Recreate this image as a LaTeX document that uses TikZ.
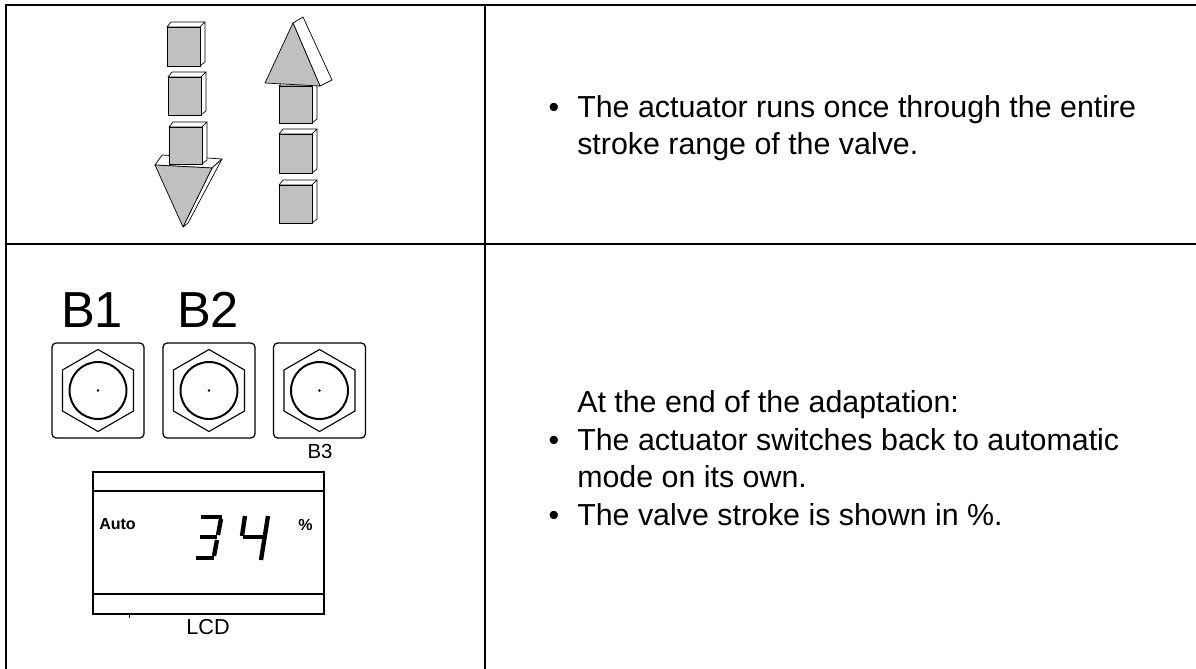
\documentclass[tikz,border=0pt]{standalone}
\usepackage{fontspec}
\setmainfont{Liberation Sans}
\usetikzlibrary{calc}
\definecolor{facegray}{RGB}{192,192,192}
\newcommand{\bodyfont}{\fontsize{21.6}{26}\selectfont}
\tikzset{
	frame/.style={line width=1.5pt},
	thinframe/.style={line width=0.8pt},
	facet/.style={line width=0.5pt, line join=round},
	txt/.style={inner sep=0pt, font=\bodyfont},
	button/.style={draw, line width=0.9pt, rounded corners=3pt, minimum width=2.3cm, minimum height=2.375cm},
	segment/.style={line width=3.1pt},
}
% block: grey front face with white top and side
\def\cube(#1,#2)(#3:#4){%
	\draw[facet,fill=white] (#1,#2) -- (#1+4,#2-5) -- (#1+#3+5,#2-5) -- (#1+#3,#2) -- cycle;
	\draw[facet,fill=white] (#1+#3,#2) -- (#1+#3+5,#2-5) -- (#1+#3+5,#2+#4-4) -- (#1+#3,#2+#4) -- cycle;
	\draw[facet,fill=facegray] (#1,#2) rectangle (#1+#3,#2+#4);}
% push button with hexagon and knob
\def\knob(#1){%
	\draw[line width=0.8pt] (#1) +(90:41) -- +(30:41) -- +(-30:41) -- +(-90:41) -- +(-150:41) -- +(150:41) -- cycle;
	\draw[line width=1.4pt] (#1) circle[radius=28.5];
	\fill (#1) circle[radius=1.3];}

\begin{document}
\begin{tikzpicture}[x=0.025cm, y=-0.025cm]
		\useasboundingbox (0,0) rectangle (1196,669);
		
		%%%%% TABLE %%%%%
		\draw[frame] (6,669) -- (6,5) -- (127,5);
		\draw[thinframe] (127,5) -- (365,5);
		\draw[frame] (365,5) -- (1196,5);
		\draw[frame] (6,244) -- (127,244);
		\draw[thinframe] (127,244) -- (365,244);
		\draw[frame] (365,244) -- (1196,244);
		\draw[frame] (485,5) -- (485,669);
		
		%%%%% STROKE ARROWS %%%%%
		\cube(167,27)(33:39)
		\cube(168,77)(33:38)
		\draw[facet,fill=white] (155,165) -- (162,155) -- (222,159) -- (212,168) -- cycle;
		\draw[facet,fill=white] (212,168) -- (222,159) -- (188,223) -- (183,227) -- cycle;
		\draw[facet,fill=facegray] (155,165) -- (212,168) -- (183,227) -- cycle;
		\cube(169,127)(33:37)
		
		\cube(279,185)(33:38)
		\cube(279,134)(33:39)
		\cube(279,86)(33:37)
		\draw[facet,fill=white] (293,23) -- (303,17) -- (332,80) -- (320,86) -- cycle;
		\draw[facet,fill=facegray] (293,23) -- (265,83) -- (320,86) -- cycle;
		
		\node[txt,anchor=base] (dotA) at (554,118) {\textbullet};
		\node[txt,anchor=base west] (lineA) at (577,118) {The actuator runs once through the entire};
		\node[txt,anchor=base west] (lineB) at (577,155) {stroke range of the valve.};
		
		%%%%% BUTTONS %%%%%
		\node[button] (btnA) at (98,390.5) {};
		\node[button] (btnB) at (209,390.5) {};
		\node[button] (btnC) at (319.5,390.5) {};
		\knob(btnA.center)
		\knob(btnB.center)
		\knob(btnC.center)
		\node[inner sep=0pt, font=\fontsize{36}{40}\selectfont, anchor=base] (labA) at (92,327) {B1};
		\node[inner sep=0pt, font=\fontsize{36}{40}\selectfont, anchor=base] (labB) at (208,327) {B2};
		\node[inner sep=0pt, font=\fontsize{14.5}{16}\selectfont, anchor=base] (labC) at (320,458) {B3};
		
		%%%%% LCD %%%%%
		\draw[line width=1.1pt] (93,472) rectangle (324,614);
		\draw[line width=1.1pt] (93,491) -- (324,491);
		\draw[line width=1.1pt] (93,594) -- (324,594);
		\draw (129,614) -- (129,618);
		\node[inner sep=0pt, font=\fontsize{11.4}{13}\selectfont\bfseries, anchor=base west] (auto) at (99,529) {Auto};
		\node[inner sep=0pt, font=\fontsize{11.4}{13}\selectfont\bfseries, anchor=base west] (pct) at (298,530) {\%};
		\node[inner sep=0pt, font=\fontsize{15.4}{18}\selectfont, anchor=base] (lcd) at (208,634) {LCD};
		
		% digit 3
		\draw[segment] (201,517) -- (222,517);
		\draw[segment] (200,537) -- (217,537);
		\draw[segment] (196,558) -- (214,558);
		\draw[segment] (221,519) -- (218,535);
		\draw[segment] (217,540) -- (214,556);
		% digit 4
		\draw[segment] (245,516) -- (242,536);
		\draw[segment] (243,537) -- (263,537);
		\draw[segment] (268,516) -- (261,560);
		
		\node[txt,anchor=base west] (headB) at (577,412) {At the end of the adaptation:};
		\node[txt,anchor=base] (dotB) at (554,450) {\textbullet};
		\node[txt,anchor=base west] (lineC) at (577,450) {The actuator switches back to automatic};
		\node[txt,anchor=base west] (lineD) at (577,487) {mode on its own.};
		\node[txt,anchor=base] (dotC) at (554,525) {\textbullet};
		\node[txt,anchor=base west] (lineE) at (577,525) {The valve stroke is shown in \%.};
		
	\end{tikzpicture}
\end{document}
